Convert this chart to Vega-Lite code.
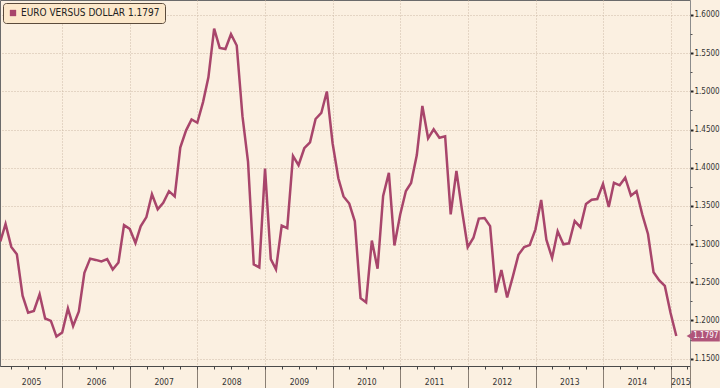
{
  "$schema": "https://vega.github.io/schema/vega-lite/v6.json",
  "width": 690,
  "height": 366,
  "autosize": {"type": "none"},
  "padding": {"left": 0, "top": 0, "right": 30, "bottom": 22},
  "background": "#FBF0E1",
  "config": {
    "view": {"stroke": "#6b6b6b", "strokeWidth": 1, "fill": "#FBF0E1"},
    "font": "DejaVu Sans Condensed, sans-serif",
    "axis": {"labelFont": "DejaVu Sans Condensed, sans-serif", "labelFontSize": 8, "labelColor": "#333333", "title": null}
  },
  "datasets": {
    "eurusd": [
      {"date": "2005-01-31", "value": 1.3036}, {"date": "2005-02-28", "value": 1.3263}, {"date": "2005-03-31", "value": 1.2963}, {"date": "2005-04-30", "value": 1.2868},
      {"date": "2005-05-31", "value": 1.2324}, {"date": "2005-06-30", "value": 1.2103}, {"date": "2005-07-31", "value": 1.2124}, {"date": "2005-08-31", "value": 1.2343},
      {"date": "2005-09-30", "value": 1.2026}, {"date": "2005-10-31", "value": 1.1995}, {"date": "2005-11-30", "value": 1.1789}, {"date": "2005-12-31", "value": 1.1842},
      {"date": "2006-01-31", "value": 1.2158}, {"date": "2006-02-28", "value": 1.1927}, {"date": "2006-03-31", "value": 1.2118}, {"date": "2006-04-30", "value": 1.2624},
      {"date": "2006-05-31", "value": 1.2810}, {"date": "2006-06-30", "value": 1.2793}, {"date": "2006-07-31", "value": 1.2772}, {"date": "2006-08-31", "value": 1.2803},
      {"date": "2006-09-30", "value": 1.2668}, {"date": "2006-10-31", "value": 1.2760}, {"date": "2006-11-30", "value": 1.3248}, {"date": "2006-12-31", "value": 1.3199},
      {"date": "2007-01-31", "value": 1.3015}, {"date": "2007-02-28", "value": 1.3232}, {"date": "2007-03-31", "value": 1.3354}, {"date": "2007-04-30", "value": 1.3652},
      {"date": "2007-05-31", "value": 1.3456}, {"date": "2007-06-30", "value": 1.3541}, {"date": "2007-07-31", "value": 1.3693}, {"date": "2007-08-31", "value": 1.3625},
      {"date": "2007-09-30", "value": 1.4263}, {"date": "2007-10-31", "value": 1.4486}, {"date": "2007-11-30", "value": 1.4632}, {"date": "2007-12-31", "value": 1.4589},
      {"date": "2008-01-31", "value": 1.4859}, {"date": "2008-02-29", "value": 1.5184}, {"date": "2008-03-31", "value": 1.5820}, {"date": "2008-04-30", "value": 1.5569},
      {"date": "2008-05-31", "value": 1.5554}, {"date": "2008-06-30", "value": 1.5748}, {"date": "2008-07-31", "value": 1.5600}, {"date": "2008-08-31", "value": 1.4675},
      {"date": "2008-09-30", "value": 1.4081}, {"date": "2008-10-31", "value": 1.2734}, {"date": "2008-11-30", "value": 1.2695}, {"date": "2008-12-31", "value": 1.3990},
      {"date": "2009-01-31", "value": 1.2804}, {"date": "2009-02-28", "value": 1.2669}, {"date": "2009-03-31", "value": 1.3242}, {"date": "2009-04-30", "value": 1.3210},
      {"date": "2009-05-31", "value": 1.4154}, {"date": "2009-06-30", "value": 1.4033}, {"date": "2009-07-31", "value": 1.4255}, {"date": "2009-08-31", "value": 1.4333},
      {"date": "2009-09-30", "value": 1.4638}, {"date": "2009-10-31", "value": 1.4717}, {"date": "2009-11-30", "value": 1.4998}, {"date": "2009-12-31", "value": 1.4321},
      {"date": "2010-01-31", "value": 1.3862}, {"date": "2010-02-28", "value": 1.3624}, {"date": "2010-03-31", "value": 1.3531}, {"date": "2010-04-30", "value": 1.3298},
      {"date": "2010-05-31", "value": 1.2292}, {"date": "2010-06-30", "value": 1.2238}, {"date": "2010-07-31", "value": 1.3047}, {"date": "2010-08-31", "value": 1.2677},
      {"date": "2010-09-30", "value": 1.3630}, {"date": "2010-10-31", "value": 1.3933}, {"date": "2010-11-30", "value": 1.2983}, {"date": "2010-12-31", "value": 1.3384},
      {"date": "2011-01-31", "value": 1.3695}, {"date": "2011-02-28", "value": 1.3800}, {"date": "2011-03-31", "value": 1.4166}, {"date": "2011-04-30", "value": 1.4808},
      {"date": "2011-05-31", "value": 1.4385}, {"date": "2011-06-30", "value": 1.4502}, {"date": "2011-07-31", "value": 1.4392}, {"date": "2011-08-31", "value": 1.4412},
      {"date": "2011-09-30", "value": 1.3390}, {"date": "2011-10-31", "value": 1.3959}, {"date": "2011-11-30", "value": 1.3445}, {"date": "2011-12-31", "value": 1.2961},
      {"date": "2012-01-31", "value": 1.3083}, {"date": "2012-02-29", "value": 1.3334}, {"date": "2012-03-31", "value": 1.3341}, {"date": "2012-04-30", "value": 1.3236},
      {"date": "2012-05-31", "value": 1.2366}, {"date": "2012-06-30", "value": 1.2661}, {"date": "2012-07-31", "value": 1.2302}, {"date": "2012-08-31", "value": 1.2577},
      {"date": "2012-09-30", "value": 1.2859}, {"date": "2012-10-31", "value": 1.2961}, {"date": "2012-11-30", "value": 1.2987}, {"date": "2012-12-31", "value": 1.3193},
      {"date": "2013-01-31", "value": 1.3579}, {"date": "2013-02-28", "value": 1.3057}, {"date": "2013-03-31", "value": 1.2819}, {"date": "2013-04-30", "value": 1.3168},
      {"date": "2013-05-31", "value": 1.2997}, {"date": "2013-06-30", "value": 1.3010}, {"date": "2013-07-31", "value": 1.3302}, {"date": "2013-08-31", "value": 1.3222},
      {"date": "2013-09-30", "value": 1.3526}, {"date": "2013-10-31", "value": 1.3580}, {"date": "2013-11-30", "value": 1.3590}, {"date": "2013-12-31", "value": 1.3789},
      {"date": "2014-01-31", "value": 1.3486}, {"date": "2014-02-28", "value": 1.3803}, {"date": "2014-03-31", "value": 1.3770}, {"date": "2014-04-30", "value": 1.3869},
      {"date": "2014-05-31", "value": 1.3634}, {"date": "2014-06-30", "value": 1.3692}, {"date": "2014-07-31", "value": 1.3390}, {"date": "2014-08-31", "value": 1.3132},
      {"date": "2014-09-30", "value": 1.2631}, {"date": "2014-10-31", "value": 1.2525}, {"date": "2014-11-30", "value": 1.2452}, {"date": "2014-12-31", "value": 1.2098},
      {"date": "2015-01-31", "value": 1.1797}
    ],
    "last": [{"date": "2015-01-31", "value": 1.1797, "label": "1.1797"}]
  },
  "resolve": {"scale": {"x": "shared", "y": "shared"}, "axis": {"x": "independent", "y": "independent"}},
  "layer": [
    {
      "data": {"name": "eurusd"},
      "mark": {"type": "line", "strokeWidth": 2.5, "strokeJoin": "miter", "clip": true},
      "encoding": {
        "x": {
          "field": "date", "type": "temporal",
          "scale": {"domain": [{"year": 2005, "month": 1, "date": 29}, {"year": 2015, "month": 4, "date": 15}], "nice": false},
          "axis": {
            "orient": "bottom",
            "values": [{"year": 2006, "month": 1, "date": 1}, {"year": 2007, "month": 1, "date": 1}, {"year": 2008, "month": 1, "date": 1}, {"year": 2009, "month": 1, "date": 1}, {"year": 2010, "month": 1, "date": 1}, {"year": 2011, "month": 1, "date": 1}, {"year": 2012, "month": 1, "date": 1}, {"year": 2013, "month": 1, "date": 1}, {"year": 2014, "month": 1, "date": 1}, {"year": 2015, "month": 1, "date": 1}, {"year": 2015, "month": 4, "date": 15}],
            "labels": false, "tickSize": 22, "tickColor": "#8a7f74", "tickWidth": 1,
            "domain": true, "domainColor": "#4a4a4a", "domainWidth": 1,
            "grid": true, "gridColor": "#cdbba6", "gridDash": [1, 2], "gridWidth": 1
          }
        },
        "y": {
          "field": "value", "type": "quantitative",
          "scale": {"domain": [1.1404, 1.6196], "nice": false, "zero": false},
          "axis": {
            "orient": "right",
            "values": [1.15, 1.2, 1.25, 1.3, 1.35, 1.4, 1.45, 1.5, 1.55, 1.6],
            "format": ".4f", "tickSize": 3, "tickColor": "#222222", "tickWidth": 2, "labelPadding": 1,
            "labelFontSize": 8,
            "domain": true, "domainColor": "#8c8c8c", "domainWidth": 1,
            "grid": true, "gridColor": "#cdbba6", "gridDash": [1, 2], "gridWidth": 1,
            "labelOverlap": false, "labelBound": false
          }
        },
        "color": {
          "datum": "EURO VERSUS DOLLAR 1.1797",
          "scale": {"range": ["#A8456B"]},
          "legend": {
            "orient": "top-left", "offset": 3, "title": null,
            "symbolType": "square", "symbolSize": 40, "symbolFillColor": "#A8456B", "symbolStrokeColor": "#A8456B", "symbolStrokeWidth": 0,
            "fillColor": "#FCE8CB", "strokeColor": "#5b4b3b", "padding": 5, "cornerRadius": 3, "labelOffset": 3,
            "labelFont": "DejaVu Sans Condensed, sans-serif", "labelFontSize": 10, "labelColor": "#222222", "labelLimit": 400
          }
        }
      }
    },
    {
      "data": {"name": "eurusd"},
      "mark": {"type": "point", "opacity": 0},
      "encoding": {
        "x": {
          "field": "date", "type": "temporal",
          "axis": {
            "orient": "bottom",
            "values": [{"year": 2005, "month": 7, "date": 16}, {"year": 2006, "month": 7, "date": 2}, {"year": 2007, "month": 7, "date": 2}, {"year": 2008, "month": 7, "date": 2}, {"year": 2009, "month": 7, "date": 2}, {"year": 2010, "month": 7, "date": 2}, {"year": 2011, "month": 7, "date": 2}, {"year": 2012, "month": 7, "date": 2}, {"year": 2013, "month": 7, "date": 2}, {"year": 2014, "month": 7, "date": 2}, {"year": 2015, "month": 2, "date": 22}],
            "format": "%Y", "ticks": false, "domain": false, "grid": false,
            "labelFontSize": 8.5,
            "labelPadding": 11, "labelOverlap": false, "labelFlush": false, "labelBound": false
          }
        },
        "y": {
          "field": "value", "type": "quantitative",
          "axis": {
            "orient": "right",
            "values": [1.175, 1.225, 1.275, 1.325, 1.375, 1.425, 1.475, 1.525, 1.575],
            "labels": false, "tickSize": 2, "tickColor": "#555555", "domain": false, "grid": false
          }
        }
      }
    },
    {
      "data": {"name": "eurusd"},
      "mark": {"type": "point", "opacity": 0},
      "encoding": {
        "x": {
          "field": "date", "type": "temporal",
          "axis": {
            "orient": "bottom",
            "tickCount": {"interval": "month", "step": 3},
            "labels": false, "tickSize": 3, "tickColor": "#444444", "domain": false, "grid": false
          }
        },
        "y": {"field": "value", "type": "quantitative", "axis": null}
      }
    },
    {
      "data": {"name": "last"},
      "mark": {"type": "rect", "color": "#B0557A", "xOffset": 15, "x2Offset": 43.5, "yOffset": -5.5, "y2Offset": 5.5},
      "encoding": {
        "x": {"field": "date", "type": "temporal", "axis": null},
        "x2": {"field": "date"},
        "y": {"field": "value", "type": "quantitative", "axis": null},
        "y2": {"field": "value"}
      }
    },
    {
      "data": {"name": "last"},
      "mark": {"type": "point", "shape": "triangle-left", "filled": true, "color": "#B0557A", "size": 40, "opacity": 1, "xOffset": 13},
      "encoding": {
        "x": {"field": "date", "type": "temporal", "axis": null},
        "y": {"field": "value", "type": "quantitative", "axis": null}
      }
    },
    {
      "data": {"name": "last"},
      "mark": {"type": "text", "color": "#ffffff", "dx": 29.5, "align": "center", "baseline": "middle", "fontSize": 8, "font": "DejaVu Sans Condensed, sans-serif"},
      "encoding": {
        "x": {"field": "date", "type": "temporal", "axis": null},
        "y": {"field": "value", "type": "quantitative", "axis": null},
        "text": {"field": "label"}
      }
    }
  ]
}
